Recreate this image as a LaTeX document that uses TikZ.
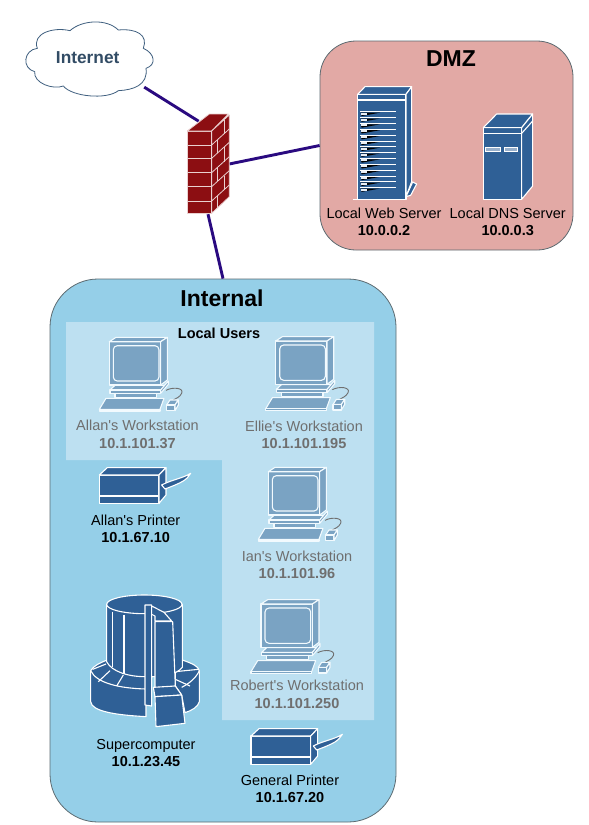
\documentclass[tikz,border=0pt]{standalone}
\usepackage{fontspec}
\newfontfamily\lib{Liberation Sans}
\definecolor{wire}{HTML}{2A0A80}
\definecolor{dmzfill}{HTML}{E2A9A5}
\definecolor{intfill}{HTML}{95CFE8}
\definecolor{panelfill}{HTML}{BDE0F1}
\definecolor{blue1}{HTML}{2F6096}
\definecolor{blue2}{HTML}{7AA3C3}
\definecolor{brick}{HTML}{8C0E12}
\definecolor{mortar}{HTML}{EAD0D0}
\definecolor{zonedge}{HTML}{5C6A70}
\definecolor{cloudedge}{HTML}{3F5F7F}
\definecolor{fadetext}{HTML}{6F6F6F}
\definecolor{fadeline}{HTML}{F2FAFE}
\tikzset{
  wirestyle/.style={draw=wire,line width=2.9pt},
  zone/.style={draw=zonedge,line width=0.8pt,inner sep=0pt},
  label/.style={font=\lib\fontsize{14.5}{17.5}\selectfont,align=center,inner sep=0pt,text=black},
  fadelabel/.style={label,text=fadetext},
  title/.style={font=\lib\bfseries\fontsize{23}{26}\selectfont,inner sep=0pt},
  devshape/.style={fill=blue1,draw=white,line width=1.1pt,line join=round},
  wsshape/.style={fill=blue2,draw=fadeline,line width=1.1pt,line join=round},
  pics/workstation/.style={code={
    \begin{scope}[scale=1/3]
      % cable
      \draw[draw=fadetext,line width=0.9pt] (170,146) .. controls (190,135) and (225,138) .. (217,155) .. controls (212,166) and (200,170) .. (192,175);
      % monitor
      \path[wsshape] (0,0) rectangle (154,130);
      \path[wsshape] (0,0) -- (20,-13) -- (174,-13) -- (154,0) -- cycle;
      \path[wsshape] (154,0) -- (174,-13) -- (174,115) -- (154,130) -- cycle;
      \path[wsshape,rounded corners=4pt] (12,12) rectangle (149,118);
      % stand
      \path[wsshape] (17,155) rectangle (142,167);
      \path[wsshape] (2,145) -- (17,131) -- (167,131) -- (154,145) -- cycle;
      \path[wsshape] (2,145) rectangle (154,155);
      \path[wsshape] (154,155) -- (177,128) -- (177,118) -- (154,145) -- cycle;
      % keyboard
      \path[wsshape] (-30,203) -- (-10,170) -- (164,170) -- (152,203) -- cycle;
      \path[wsshape] (-30,203) rectangle (152,208);
      % mouse
      \path[wsshape] (172,190) -- (182,175) -- (207,175) -- (197,190) -- cycle;
      \path[wsshape] (172,190) rectangle (197,207);
      \path[wsshape] (197,207) -- (207,190) -- (207,175) -- (197,190) -- cycle;
    \end{scope}
  }},
  pics/printer/.style={code={
    \begin{scope}[scale=1/3]
      \path[devshape] (0,0) rectangle (179,85);
      \draw[white,line width=1.1pt] (0,63) -- (179,63);
      \path[devshape] (0,0) -- (24,-22) -- (200,-22) -- (179,0) -- cycle;
      \path[devshape] (179,0) -- (200,-22) -- (200,60) -- (179,85) -- cycle;
      \path[devshape] (187,30) .. controls (215,15) and (250,10) .. (274,-5) .. controls (262,15) and (250,22) .. (197,42) -- cycle;
    \end{scope}
  }},
  pics/firewallshape/.style={code={
    \begin{scope}[scale=1/3,shift={(-562,-393)}]
      \path[fill=brick,draw=mortar,line width=0.8pt,line join=round] (562,393) rectangle (635,640);
      \path[fill=brick,draw=mortar,line width=0.8pt,line join=round] (562,393) -- (628,342) -- (685,342) -- (635,393) -- cycle;
      \path[fill=brick,draw=mortar,line width=0.8pt,line join=round] (635,393) -- (688,345) -- (688,590) -- (635,640) -- cycle;
      \foreach \y in {435,475,518,560,603} {
        \draw[mortar,line width=0.8pt] (562,\y) -- (635,\y);
        \draw[mortar,line width=0.8pt] (635,\y) -- (688,\y-48);
      }
      \foreach \a/\b in {393/435,475/518,560/603} \draw[mortar,line width=0.8pt] (672,\a-33.5) -- (672,\b-33.5);
      \foreach \a/\b in {435/475,518/560,603/640} \draw[mortar,line width=0.8pt] (653,\a-16.3) -- (653,\b-16.3);
    \end{scope}
  }},
}
\begin{document}
\begin{tikzpicture}[x=1pt,y=-1pt]
\useasboundingbox (0,0) rectangle (589,825);
% zones
\node[zone,fill=dmzfill,minimum width=253pt,minimum height=209pt,rounded corners=36pt] (dmz) at (446.5,145.5) {};
\node[zone,fill=intfill,minimum width=346pt,minimum height=543pt,rounded corners=48pt] (internal) at (223,550.5) {};
\node[inner sep=0pt,minimum width=42pt,minimum height=100pt] (fw) at (208,164) {};
\node[inner sep=0pt,minimum width=110pt,minimum height=74pt] (inet) at (89,59) {};
% connectors
\draw[wirestyle,shorten >=-14pt] (inet.-27) -- (fw.north west);
\draw[wirestyle] (fw.east) -- (dmz.west);
\draw[wirestyle] (fw.south) -- (internal.north);
% cloud
\begin{scope}[scale=1/3]
\draw[fill=white,draw=cloudedge,line width=0.8pt] (112,145) .. controls (70,150) and (65,205) .. (104,215)
 .. controls (100,250) and (160,270) .. (190,258)
 .. controls (215,290) and (320,300) .. (355,272)
 .. controls (400,270) and (445,255) .. (438,205)
 .. controls (470,195) and (465,160) .. (430,145)
 .. controls (445,105) and (410,85) .. (355,90)
 .. controls (320,55) and (245,60) .. (210,92)
 .. controls (160,80) and (95,100) .. (112,145) -- cycle;
\end{scope}
\node[font=\lib\bfseries\fontsize{17.3}{20}\selectfont,text=cloudedge!80!black,inner sep=0pt] (inettext) at (87.7,57.5) {Internet};
% firewall
\pic at (187.3,131) {firewallshape};
% DMZ contents
\node[title] (dmztitle) at (451,59) {DMZ};
\begin{scope}[shift={(320,40)},scale=1/3]
  % web server
  \path[devshape] (113,163) rectangle (258,478);
  \path[devshape] (113,163) -- (135,140) -- (275,140) -- (258,163) -- cycle;
  \path[devshape] (258,163) -- (275,140) -- (275,425) -- (258,470) -- cycle;
  \draw[white,line width=1.1pt] (113,180) -- (258,180);
  \draw[white,line width=1.1pt] (100,478) -- (258,478);
  \path[devshape] (258,470) -- (278,426) -- (290,432) -- (272,466) -- cycle;
  \foreach \i in {0,...,13} {
    \pgfmathsetmacro{\yy}{215+\i*17.5}
    \fill[black] (122,\yy+3) -- (180,\yy+3) -- (125,\yy+13) -- cycle;
    \draw[white,line width=0.6pt] (120,\yy) -- (228,\yy);
    \fill[white!90!blue1] (122,\yy+3) rectangle (141,\yy+9);
  }
  % dns server
  \path[devshape] (490,263) rectangle (605,478);
  \path[devshape] (490,263) -- (530,222) -- (638,222) -- (605,263) -- cycle;
  \path[devshape] (605,263) -- (638,222) -- (638,438) -- (605,478) -- cycle;
  \draw[white,line width=1.1pt] (490,280) -- (605,280);
  \draw[white,line width=1.1pt] (605,280) -- (638,243);
  \path[draw=white,line width=0.8pt,fill=blue1!50!white] (497,322) rectangle (540,335);
  \path[draw=white,line width=0.8pt,fill=blue1!50!white] (552,322) rectangle (593,335);
\end{scope}
\node[label] (weblabel) at (384,222) {Local Web Server\\ \textbf{10.0.0.2}};
\node[label] (dnslabel) at (507.7,222) {Local DNS Server\\ \textbf{10.0.0.3}};
% internal contents
\node[title] (inttitle) at (222,298) {Internal};
\fill[panelfill] (66,322) -- (374,322) -- (374,720) -- (222,720) -- (222,460) -- (66,460) -- cycle;
\node[font=\lib\bfseries\fontsize{14.5}{17}\selectfont,inner sep=0pt] (usertitle) at (219,333) {Local Users};
\pic at (109.3,341.7) {workstation};
\pic at (275.7,341) {workstation};
\pic at (268.3,471.7) {workstation};
\pic at (261,604) {workstation};
\node[fadelabel] (allan) at (137.5,434.5) {Allan's Workstation\\ \textbf{10.1.101.37}};
\node[fadelabel] (ellie) at (304,435) {Ellie's Workstation\\ \textbf{10.1.101.195}};
\node[fadelabel] (ian) at (297,565) {Ian's Workstation\\ \textbf{10.1.101.96}};
\node[fadelabel] (robert) at (297,694.5) {Robert's Workstation\\ \textbf{10.1.101.250}};
\pic at (99.3,475) {printer};
\pic at (251,736) {printer};
\node[label] (p1) at (135.7,529) {Allan's Printer\\ \textbf{10.1.67.10}};
\node[label] (p2) at (290,789) {General Printer\\ \textbf{10.1.67.20}};
% supercomputer
\begin{scope}[shift={(70,580)},scale=1/3]
  % left part of the ring
  \path[devshape] (62,272) .. controls (70,258) and (90,248) .. (112,240) -- (228,290) -- (228,410) .. controls (140,405) and (65,395) .. (62,365) -- cycle;
  % right part of the ring
  \path[devshape] (316,275) -- (337,240) .. controls (365,250) and (385,258) .. (388,272) -- (388,365) .. controls (385,380) and (365,392) .. (345,398) -- (335,345) -- (316,318) -- cycle;
  \draw[white,line width=1.1pt] (62,272) .. controls (80,310) and (150,325) .. (228,327);
  \draw[white,line width=1.1pt] (388,272) .. controls (378,295) and (355,312) .. (335,322);
  \draw[white,line width=1.1pt] (68,268) -- (108,252);
  \draw[white,line width=1.1pt] (85,305) -- (120,272);
  \draw[white,line width=1.1pt] (140,318) -- (160,285);
  \draw[white,line width=1.1pt] (316,275) -- (385,268);
  \draw[white,line width=1.1pt] (316,298) -- (360,318);
  % body
  \path[devshape] (110,73) -- (110,245) .. controls (125,275) and (175,290) .. (225,290) .. controls (270,292) and (320,285) .. (337,262) -- (337,73) -- cycle;
  \path[devshape] (223,73) ellipse [x radius=113,y radius=28];
  \draw[white,line width=1.1pt] (127,95) -- (127,262);
  \draw[white,line width=1.1pt] (162,104) -- (162,283);
  % door and cabinet
  \path[devshape] (225,75) -- (245,75) -- (245,378) -- (225,375) -- cycle;
  \path[devshape] (245,78) -- (282,97) -- (305,123) -- (255,123) -- (255,108) -- (245,103) -- cycle;
  \path[devshape] (255,125) -- (308,125) -- (316,318) -- (255,330) -- cycle;
  \path[devshape] (255,350) -- (250,322) -- (316,318) -- (335,345) -- cycle;
  \path[devshape] (255,350) -- (335,345) -- (345,430) -- (258,440) -- cycle;
\end{scope}
\node[label] (super) at (146,753) {Supercomputer\\ \textbf{10.1.23.45}};
\end{tikzpicture}
\end{document}
